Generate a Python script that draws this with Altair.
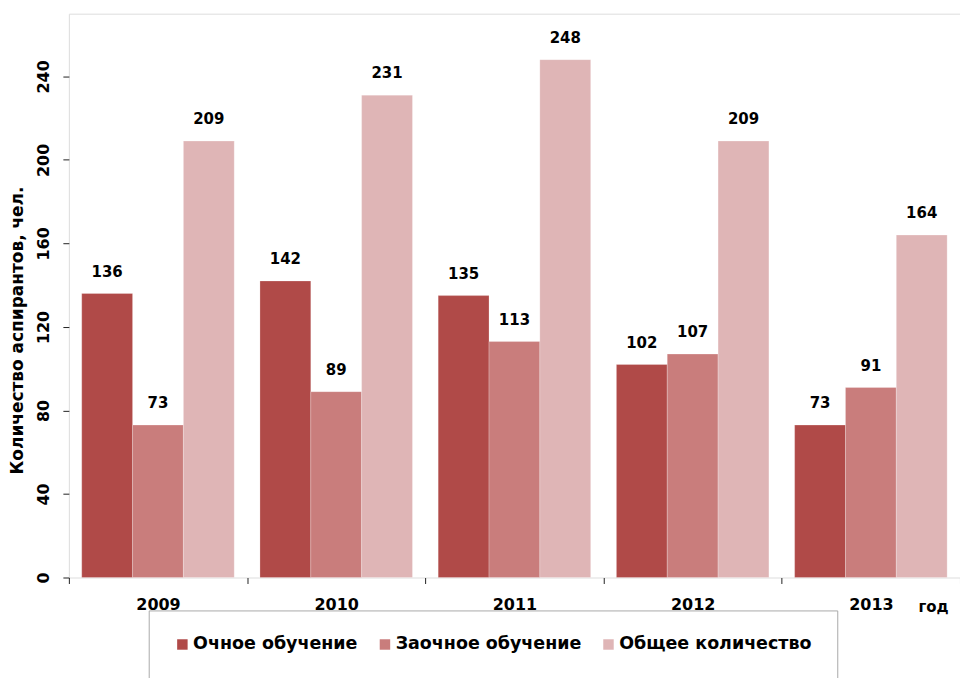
import altair as alt
import pandas as pd

years = ["2009", "2010", "2011", "2012", "2013"]
series = ["Очное обучение", "Заочное обучение", "Общее количество"]
full_time = [136, 142, 135, 102, 73]
part_time = [73, 89, 113, 107, 91]
total = [209, 231, 248, 209, 164]
colors = ["#B04A48", "#C97D7C", "#DFB5B6"]

rows = []
for i, y in enumerate(years):
    for s, vals in zip(series, [full_time, part_time, total]):
        rows.append({"year": y, "series": s, "value": vals[i]})
df = pd.DataFrame(rows)

FONT = "DejaVu Sans"

x = alt.X(
    "year:N",
    sort=years,
    scale=alt.Scale(paddingInner=0, paddingOuter=0),
    axis=alt.Axis(
        title="год",
        titleX=866,
        titleY=29,
        titleAlign="center",
        titleBaseline="middle",
        titleFontSize=15,
        titleFontWeight="bold",
        titleFont=FONT,
        titleColor="#000000",
        labelAngle=0,
        labelFontSize=16,
        labelFontWeight="bold",
        labelFont=FONT,
        labelColor="#000000",
        labelPadding=13,
        tickBand="extent",
        tickSize=6,
        tickColor="#222222",
        domain=False,
        grid=False,
    ),
)
xo = alt.XOffset(
    "series:N",
    sort=series,
    scale=alt.Scale(paddingInner=0, paddingOuter=0.253),
)
y = alt.Y(
    "value:Q",
    scale=alt.Scale(domain=[0, 270], nice=False),
    axis=alt.Axis(
        title="Количество аспирантов, чел.",
        titleX=-51,
        titleY=317,
        titleAngle=270,
        titleAlign="center",
        titleBaseline="middle",
        titleFontSize=17,
        titleFontWeight="bold",
        titleFont=FONT,
        titleColor="#000000",
        values=[0, 40, 80, 120, 160, 200, 240],
        labelAngle=270,
        labelAlign="center",
        labelBaseline="bottom",
        labelPadding=11,
        labelFontSize=16,
        labelFontWeight="bold",
        labelFont=FONT,
        labelColor="#000000",
        tickSize=6,
        tickColor="#222222",
        domain=False,
        grid=False,
    ),
)

bars = alt.Chart(df).mark_bar(stroke="#ffffff", strokeWidth=0.4, strokeOpacity=0.6).encode(
    x=x,
    xOffset=xo,
    y=y,
    color=alt.Color(
        "series:N",
        sort=series,
        scale=alt.Scale(domain=series, range=colors),
        legend=alt.Legend(
            title=None,
            orient="none",
            legendX=80,
            legendY=598,
            direction="horizontal",
            symbolType="square",
            symbolSize=110,
            symbolStrokeWidth=0,
            labelFontSize=17.5,
            labelFontWeight="bold",
            labelFont=FONT,
            labelColor="#000000",
            labelOffset=2,
            labelLimit=400,
            columnPadding=18,
            padding=25,
            strokeColor="#aaaaaa",
            fillColor="#ffffff",
        ),
    ),
)

labels = alt.Chart(df).mark_text(
    font=FONT, fontSize=15, fontWeight="bold", color="#000000",
    baseline="alphabetic", dy=-17,
).encode(
    x=alt.X("year:N", sort=years),
    xOffset=alt.XOffset("series:N", sort=series),
    y="value:Q",
    text="value:Q",
)

chart = (
    alt.layer(bars, labels)
    .properties(
        width=893,
        height=565,
        autosize=alt.AutoSizeParams(type="none"),
        padding={"left": 61, "top": 5, "right": 0, "bottom": 100},
    )
    .configure_view(stroke="#9a9a9a", strokeWidth=1.5)
    .configure(background="#ffffff")
)

chart.save("out.html", embed_options={"renderer": "svg", "actions": False})
